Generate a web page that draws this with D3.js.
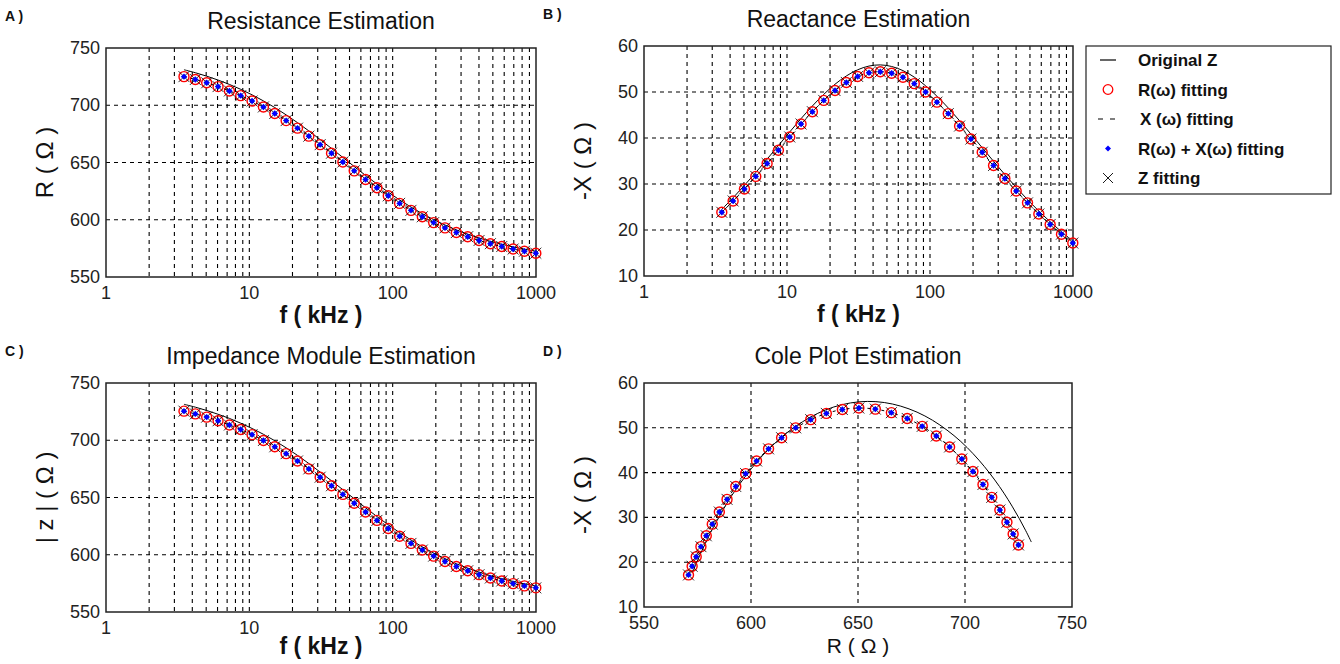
<!DOCTYPE html>
<html>
<head>
<meta charset="utf-8">
<script src="https://cdn.jsdelivr.net/npm/d3@7"></script>
<style>
  body { margin: 0; background: #fff; }
  svg { display: block; font-family: "Liberation Sans", Arial, sans-serif; }
</style>
</head>
<body>
<svg id="chart" width="1340" height="664"></svg>
<script>
// frequencies (kHz) of the fitted points
var freqKHz = [3.50, 4.20, 5.04, 6.05, 7.26, 8.71, 10.45, 12.54, 15.05, 18.06, 21.67, 26.00,
               31.20, 37.44, 44.93, 53.92, 64.70, 77.64, 93.17, 111.8, 134.2, 161.0, 193.2,
               231.8, 278.2, 333.8, 400.6, 480.7, 576.9, 692.2, 830.7, 996.8];

// fitted values
var fitR = [725.0, 722.5, 719.6, 716.3, 712.5, 708.4, 703.7, 698.5, 692.8, 686.6, 680.0, 673.0,
            665.6, 658.1, 650.4, 642.7, 635.2, 627.9, 620.9, 614.3, 608.2, 602.6, 597.5,
            592.9, 588.8, 585.2, 581.9, 579.1, 576.6, 574.4, 572.5, 570.8];
var fitX = [23.85, 26.31, 28.92, 31.65, 34.47, 37.35, 40.23, 43.04, 45.72, 48.17, 50.32, 52.08,
            53.38, 54.17, 54.41, 54.08, 53.21, 51.82, 49.99, 47.79, 45.30, 42.60, 39.77,
            36.89, 34.02, 31.20, 28.49, 25.90, 23.47, 21.20, 19.09, 17.16];
var fitZ = [725.4, 723.0, 720.2, 717.0, 713.3, 709.4, 704.9, 699.8, 694.3, 688.3, 681.9, 675.0,
            667.7, 660.3, 652.7, 645.0, 637.4, 630.0, 622.9, 616.2, 609.9, 604.1, 598.8,
            594.1, 589.8, 586.0, 582.6, 579.7, 577.1, 574.8, 572.8, 571.1];

// original impedance curve
var origR = [731.0, 728.4, 725.4, 722.0, 718.2, 713.9, 709.1, 703.8, 698.0, 691.6, 684.8, 677.6,
             670.0, 662.3, 654.4, 646.5, 638.7, 631.2, 624.1, 617.3, 611.1, 605.3, 600.1,
             595.4, 591.1, 587.4, 584.1, 581.1, 578.6, 576.3, 574.3, 572.6];
var origX = [24.50, 27.02, 29.71, 32.51, 35.41, 38.36, 41.32, 44.21, 46.96, 49.48, 51.69, 53.49,
             54.83, 55.64, 55.89, 55.55, 54.65, 53.23, 51.35, 49.09, 46.53, 43.76, 40.85,
             37.89, 34.94, 32.05, 29.26, 26.60, 24.11, 21.78, 19.61, 17.63];
var origZ = [731.4, 728.9, 726.0, 722.7, 719.1, 714.9, 710.3, 705.2, 699.6, 693.4, 686.8, 679.7,
             672.2, 664.6, 656.8, 648.9, 641.0, 633.4, 626.2, 619.3, 612.9, 606.9, 601.5,
             596.6, 592.1, 588.3, 584.8, 581.7, 579.1, 576.7, 574.6, 572.9];

var logTicks = [1, 10, 100, 1000];
var rTicks = [550, 600, 650, 700, 750];
var xTicks = [10, 20, 30, 40, 50, 60];
var legendLabels = ["Original Z", "R(\u03c9) fitting", "X (\u03c9) fitting", "R(\u03c9) + X(\u03c9) fitting", "Z fitting"];

var svg = d3.select("#chart");

var panels = [
  {tag: "A )", title: "Resistance Estimation", box: [106, 48, 536, 277], log: true,
   yDom: [550, 750], yTicks: rTicks, fit: fitR, origXs: freqKHz, orig: origR,
   fitXs: freqKHz, xLabel: "f ( kHz )", yLabel: "R ( \u03a9 )"},
  {tag: "B )", title: "Reactance Estimation", box: [644, 46, 1073, 276], log: true,
   yDom: [10, 60], yTicks: xTicks, fit: fitX, origXs: freqKHz, orig: origX,
   fitXs: freqKHz, xLabel: "f ( kHz )", yLabel: "-X ( \u03a9 )"},
  {tag: "C )", title: "Impedance Module Estimation", box: [106, 383, 536, 612], log: true,
   yDom: [550, 750], yTicks: rTicks, fit: fitZ, origXs: freqKHz, orig: origZ,
   fitXs: freqKHz, xLabel: "f ( kHz )", yLabel: "| z | ( \u03a9 )"},
  {tag: "D )", title: "Cole Plot Estimation", box: [644, 383, 1072, 607], log: false,
   yDom: [10, 60], yTicks: xTicks, fit: fitX, origXs: origR, orig: origX,
   fitXs: fitR, xLabel: "R ( \u03a9 )", yLabel: "-X ( \u03a9 )"}
];

function crossPath(s) {
  return "M" + (-s) + "," + (-s) + "L" + s + "," + s + "M" + (-s) + "," + s + "L" + s + "," + (-s);
}

panels.forEach(function(p) {
  var x0 = p.box[0], y0 = p.box[1], x1 = p.box[2], y1 = p.box[3];
  var x = p.log ? d3.scaleLog().domain([1, 1000]).range([x0, x1])
                : d3.scaleLinear().domain([550, 750]).range([x0, x1]);
  var y = d3.scaleLinear().domain(p.yDom).range([y1, y0]);
  var g = svg.append("g");

  // grid (log axes get every minor line too)
  var vGrid = p.log ? d3.range(0, 3).reduce(function(a, e) {
      for (var k = 1; k <= 9; k++) a.push(k * Math.pow(10, e));
      return a;
    }, []).filter(function(v) { return v > 1; }) : rTicks.slice(1, -1);
  g.selectAll(".vg").data(vGrid).enter().append("line")
    .attr("x1", function(d) { return x(d); }).attr("x2", function(d) { return x(d); })
    .attr("y1", y0).attr("y2", y1)
    .attr("stroke", "#000").attr("stroke-width", 1.1).attr("stroke-dasharray", "4,4");
  g.selectAll(".hg").data(p.yTicks.slice(1, -1)).enter().append("line")
    .attr("x1", x0).attr("x2", x1)
    .attr("y1", function(d) { return y(d); }).attr("y2", function(d) { return y(d); })
    .attr("stroke", "#000").attr("stroke-width", 1.1).attr("stroke-dasharray", "4,4");

  // box
  g.append("rect").attr("x", x0).attr("y", y0).attr("width", x1 - x0).attr("height", y1 - y0)
    .attr("fill", "none").attr("stroke", "#222").attr("stroke-width", 1.5);

  // tick labels
  var xt = p.log ? logTicks : rTicks;
  g.selectAll(".xt").data(xt).enter().append("text")
    .attr("x", function(d) { return x(d); }).attr("y", y1 + 22)
    .attr("text-anchor", "middle").attr("font-size", 18).attr("fill", "#222")
    .text(function(d) { return d; });
  g.selectAll(".yt").data(p.yTicks).enter().append("text")
    .attr("x", x0 - 6).attr("y", function(d) { return y(d) + 6; })
    .attr("text-anchor", "end").attr("font-size", 18).attr("fill", "#222")
    .text(function(d) { return d; });

  // titles and labels
  var cx = (x0 + x1) / 2;
  g.append("text").attr("x", cx).attr("y", y0 - 19).attr("text-anchor", "middle")
    .attr("font-size", 23).attr("fill", "#111").text(p.title);
  g.append("text").attr("x", x0 - 101).attr("y", y0 - 27).attr("font-size", 14)
    .attr("font-weight", "bold").attr("fill", "#111").text(p.tag);
  g.append("text").attr("x", cx).attr("y", Math.min(y1 + 46, 654)).attr("text-anchor", "middle")
    .attr("font-size", p.log ? 23 : 21).attr("font-weight", p.log ? "bold" : "normal")
    .attr("fill", "#111").text(p.xLabel);
  g.append("text").attr("transform", "translate(" + (x0 - 53) + "," + ((y0 + y1) / 2) + ") rotate(-90)")
    .attr("text-anchor", "middle").attr("font-size", 24).attr("fill", "#111").text(p.yLabel);

  // original curve
  var pts = p.orig.map(function(v, i) { return [x(p.origXs[i]), y(v)]; });
  g.append("path").attr("d", d3.line().curve(d3.curveCatmullRom)(pts))
    .attr("fill", "none").attr("stroke", "#000").attr("stroke-width", 1);

  // fitted markers
  var fp = p.fit.map(function(v, i) { return [x(p.fitXs[i]), y(v)]; });
  g.selectAll(".rc").data(fp).enter().append("circle")
    .attr("cx", function(d) { return d[0]; }).attr("cy", function(d) { return d[1]; })
    .attr("r", 5).attr("fill", "none").attr("stroke", "#ff0000").attr("stroke-width", 1.4);
  g.selectAll(".zx").data(fp).enter().append("path")
    .attr("transform", function(d) { return "translate(" + d[0] + "," + d[1] + ")"; })
    .attr("d", crossPath(5.5)).attr("stroke", "#000").attr("stroke-width", 0.8);
  g.append("path").attr("d", d3.line().curve(d3.curveCatmullRom)(fp))
    .attr("fill", "none").attr("stroke", "#000").attr("stroke-width", 1)
    .attr("stroke-dasharray", "3,4");
  g.selectAll(".bd").data(fp).enter().append("path")
    .attr("transform", function(d) { return "translate(" + d[0] + "," + d[1] + ")"; })
    .attr("d", "M0,-3.2L3.2,0L0,3.2L-3.2,0Z").attr("fill", "#0000ff");
});

// legend
var lg = svg.append("g");
lg.append("rect").attr("x", 1086).attr("y", 46).attr("width", 245).attr("height", 148)
  .attr("fill", "#fff").attr("stroke", "#222").attr("stroke-width", 1.2);
legendLabels.forEach(function(t, i) {
  var ly = 60 + i * 29.5;
  var sx = 1108;
  if (i === 0) lg.append("line").attr("x1", sx - 8).attr("x2", sx + 8).attr("y1", ly).attr("y2", ly)
    .attr("stroke", "#000").attr("stroke-width", 1.2);
  if (i === 1) lg.append("circle").attr("cx", sx).attr("cy", ly).attr("r", 4.8)
    .attr("fill", "none").attr("stroke", "#ff0000").attr("stroke-width", 1.3);
  if (i === 2) lg.append("line").attr("x1", sx - 10).attr("x2", sx + 10).attr("y1", ly).attr("y2", ly)
    .attr("stroke", "#000").attr("stroke-width", 1.2).attr("stroke-dasharray", "5,7");
  if (i === 3) lg.append("path").attr("transform", "translate(" + sx + "," + ly + ")")
    .attr("d", "M0,-3L3,0L0,3L-3,0Z").attr("fill", "#0000ff");
  if (i === 4) lg.append("path").attr("transform", "translate(" + sx + "," + ly + ")")
    .attr("d", crossPath(5)).attr("stroke", "#000").attr("stroke-width", 0.9);
  lg.append("text").attr("x", i === 2 ? 1140 : 1138).attr("y", ly + 6).attr("font-size", 17)
    .attr("font-weight", "bold").attr("fill", "#111").text(t);
});
</script>
</body>
</html>
